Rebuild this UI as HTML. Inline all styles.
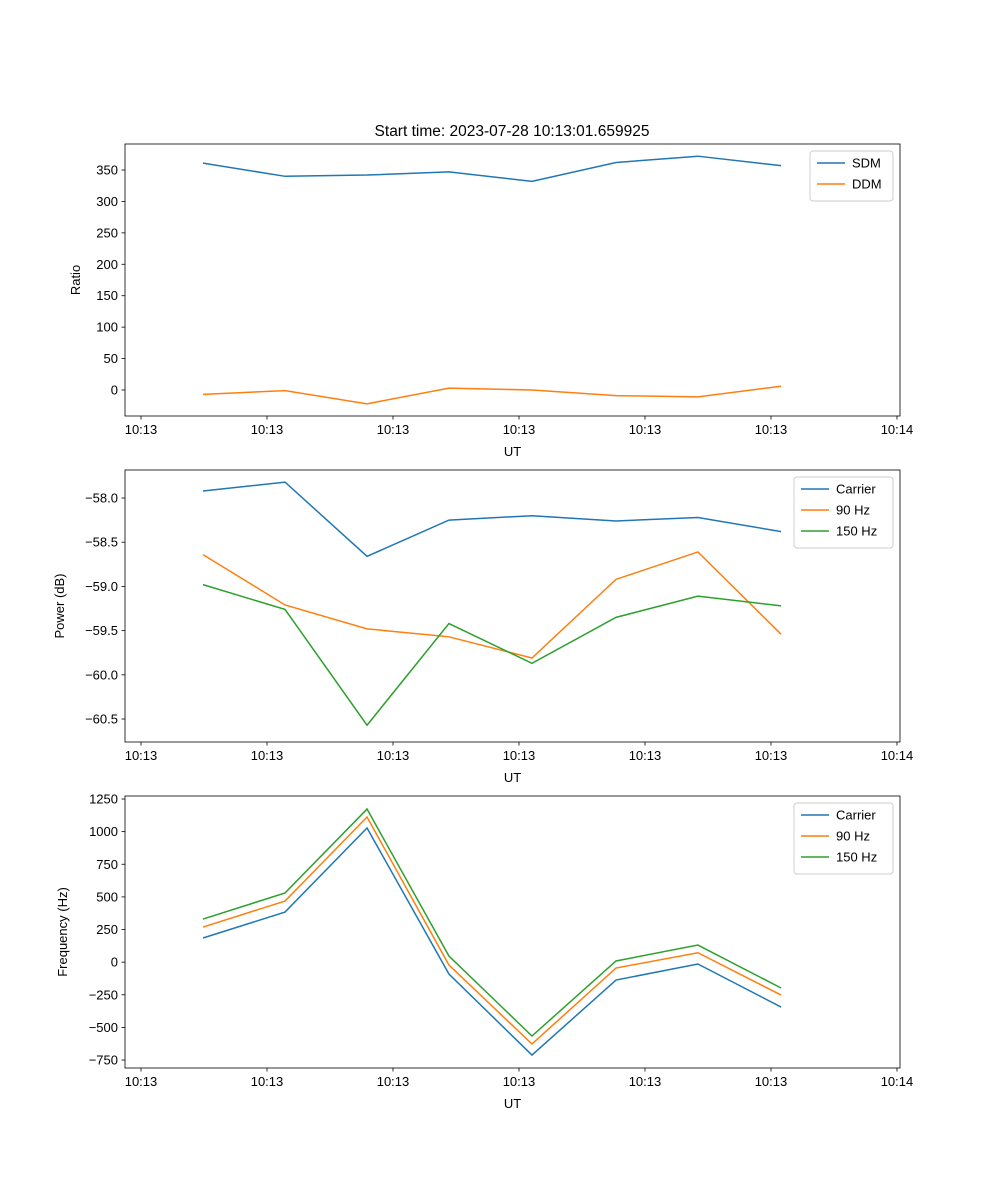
<!DOCTYPE html>
<html><head><meta charset="utf-8">
<style>
body{margin:0;background:#fff;}
svg{display:block;font-family:"Liberation Sans","DejaVu Sans",sans-serif;}
</style></head>
<body>
<svg id="chart" width="1000" height="1200" viewBox="0 0 1000 1200"></svg>
<script>
const xTickLabels=["10:13","10:13","10:13","10:13","10:13","10:13","10:14"];
const xTimes=[0.492,1.143,1.794,2.444,3.103,3.770,4.420,5.080];
const sdm=[361,340,342,347,332,362,372,357];
const ddm=[-7,-1,-22,3,0,-9,-11,6];
const pCarrier=[-57.92,-57.82,-58.66,-58.25,-58.20,-58.26,-58.22,-58.38];
const p90=[-58.64,-59.21,-59.48,-59.57,-59.81,-58.92,-58.61,-59.54];
const p150=[-58.98,-59.26,-60.57,-59.42,-59.87,-59.35,-59.11,-59.22];
const fCarrier=[185,384,1028,-91,-712,-137,-14,-344];
const f90=[269,468,1112,-22,-627,-45,72,-252];
const f150=[330,530,1173,47,-566,9,131,-198];
const ticks1=[0,50,100,150,200,250,300,350];
const ticks2=[-60.5,-60.0,-59.5,-59.0,-58.5,-58.0];
const ticks3=[-750,-500,-250,0,250,500,750,1000,1250];
const C=["#1f77b4","#ff7f0e","#2ca02c"];
const NS="http://www.w3.org/2000/svg";
const svg=document.getElementById('chart');
function mk(tag,attrs,parent,text){const e=document.createElementNS(NS,tag);for(const k in attrs)e.setAttribute(k,attrs[k]);if(text!==undefined)e.textContent=text;(parent||svg).appendChild(e);return e;}
const L=125,R=900,xmin=-0.127,xmax=6.024;
const xs=v=>L+(v-xmin)/(xmax-xmin)*(R-L);
function panel(name,top,bot,ymin,ymax,yt,fmt,ylabel,series,names,legW,legX){
  const g=mk('g',{});
  
  
  const ys=v=>bot-(v-ymin)/(ymax-ymin)*(bot-top);
  series.forEach((s,i)=>{
    const p=mk('polyline',{points:s.map((v,j)=>xs(xTimes[j])+','+ys(v)).join(' '),fill:'none',stroke:C[i],'stroke-width':1.5},g);
    
    
  });
  const ax=mk('rect',{x:L,y:top,width:R-L,height:bot-top,fill:'none',stroke:'#000','stroke-width':0.8},g);
  
  
  xTickLabels.forEach((t,i)=>{const x=xs(i);mk('line',{x1:x,x2:x,y1:bot,y2:bot+3.5,stroke:'#000','stroke-width':0.8},g);
    const tx=mk('text',{x:x,y:bot+18,'font-size':13,'text-anchor':'middle'},g,t);
    
    });
  yt.forEach(v=>{const y=ys(v);mk('line',{x1:L,x2:L-3.5,y1:y,y2:y,stroke:'#000','stroke-width':0.8},g);
    const tx=mk('text',{x:L-7,y:y+4.5,'font-size':13,'text-anchor':'end'},g,fmt(v));
    
    });
  const xl=mk('text',{x:(L+R)/2,y:bot+40,'font-size':13,'text-anchor':'middle'},g,'UT');
  
  
  const yl=mk('text',{x:0,y:0,'font-size':13,'text-anchor':'middle',transform:`translate(${ylabel[1]},${(top+bot)/2}) rotate(-90)`},g,ylabel[0]);
  
  
  const lg=mk('g',{},g);
  
  
  mk('rect',{x:legX,y:top+7,width:legW,height:names.length*21+8,rx:3,fill:'#fff',stroke:'#ccc'},lg);
  names.forEach((n,i)=>{const y=top+19+i*21;
    mk('line',{x1:legX+7,x2:legX+35,y1:y,y2:y,stroke:C[i],'stroke-width':1.5},lg);
    const tx=mk('text',{x:legX+42,y:y+4.5,'font-size':13},lg,n);
    
    });
}
const t=mk('text',{x:512,y:136,'font-size':15.5,'text-anchor':'middle'},svg,'Start time: 2023-07-28 10:13:01.659925');


panel('ratio-panel',144,416,-41.4,391.4,ticks1,v=>String(v),['Ratio',80],[sdm,ddm],['SDM','DDM'],83,810);
panel('power-panel',470,742,-60.76,-57.683,ticks2,v=>v.toFixed(1).replace('-','\u2212'),['Power (dB)',64],[pCarrier,p90,p150],['Carrier','90 Hz','150 Hz'],99,794);
panel('frequency-panel',796,1068,-811,1273,ticks3,v=>String(v).replace('-','\u2212'),['Frequency (Hz)',67],[fCarrier,f90,f150],['Carrier','90 Hz','150 Hz'],99,794);
</script>
</body></html>
